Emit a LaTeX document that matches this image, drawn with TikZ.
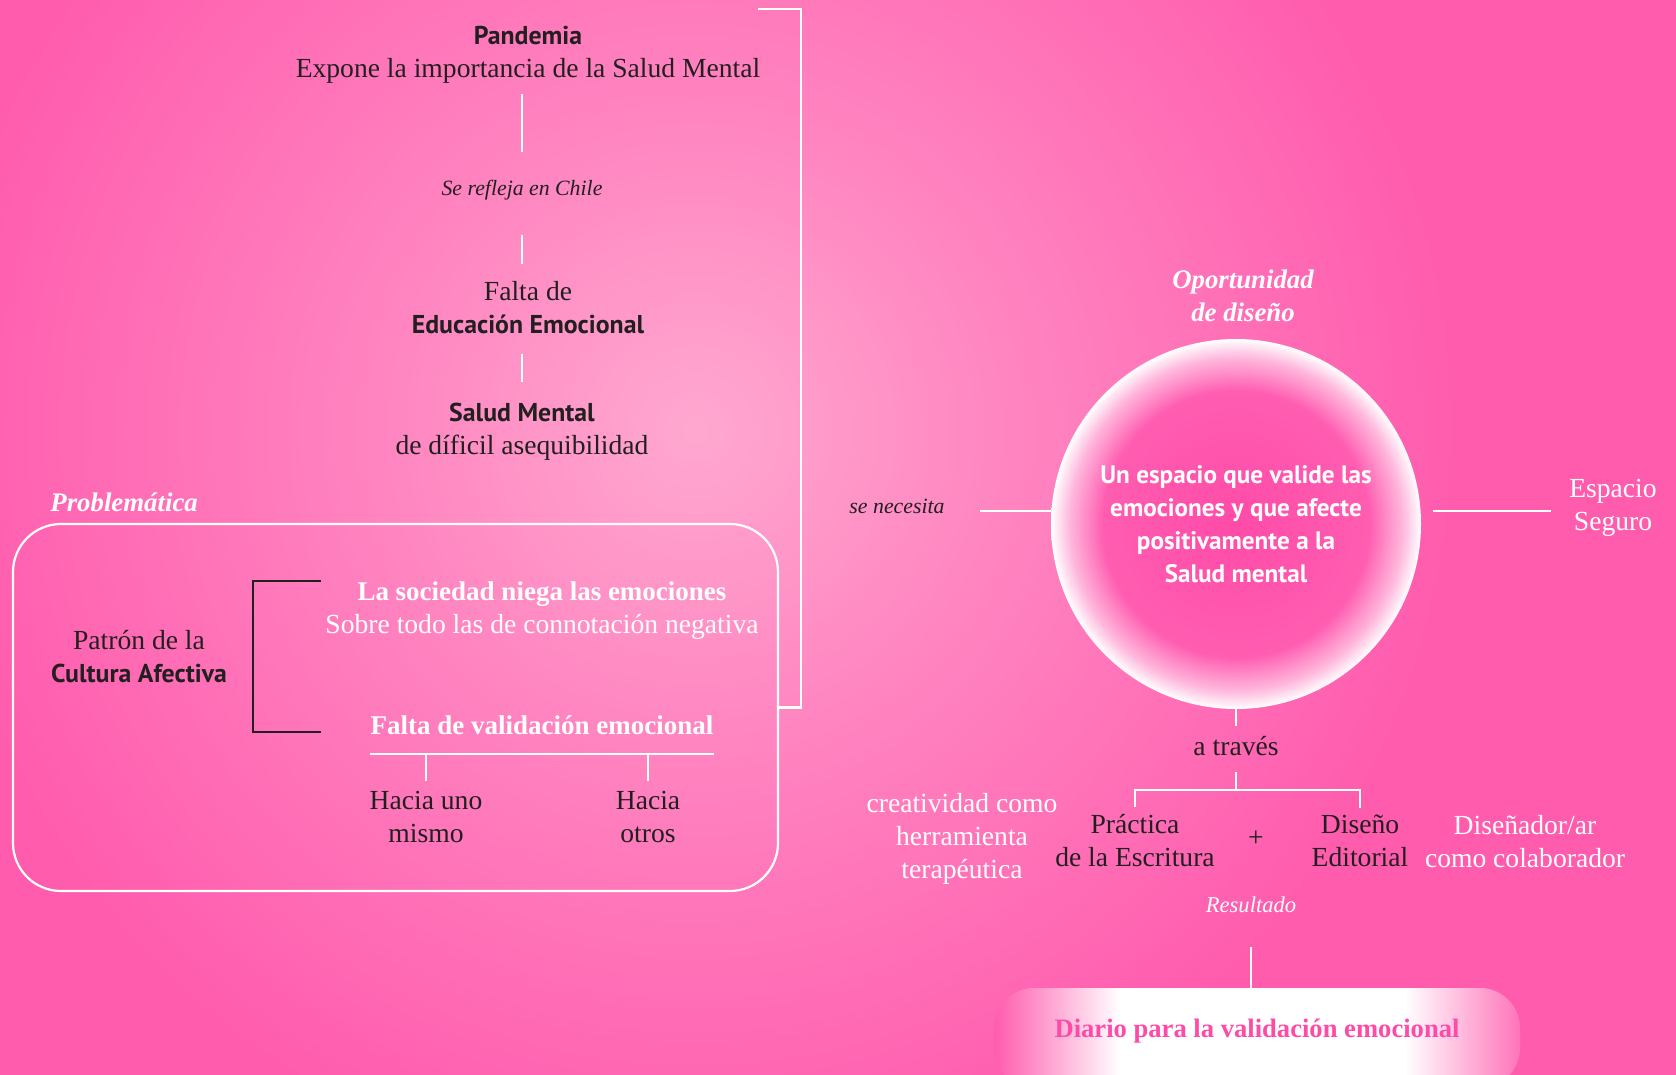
\documentclass[tikz,border=0pt]{standalone}
\usepackage{fontspec}
\setmainfont{Liberation Serif}
\setsansfont{PT Sans}
\usepackage{tikz}
\usetikzlibrary{positioning,calc}

\definecolor{fondo}{HTML}{FF5CAE}
\definecolor{brillo}{HTML}{FFA8D0}
\definecolor{fucsia}{HTML}{FF4BA8}
\definecolor{tinta}{HTML}{231F20}
\colorlet{brilloMedio}{brillo!55!fondo}
\colorlet{fucsiaBorde}{fucsia!90!white}
\colorlet{fucsiaClaro}{fucsia!40!white}
\colorlet{fondoClaro}{fondo!85!white}

\pgfdeclareradialshading{halo}{\pgfpointorigin}{color(0bp)=(brillo); color(10bp)=(brilloMedio); color(25bp)=(fondo); color(50bp)=(fondo)}
\pgfdeclareradialshading{burbuja}{\pgfpointorigin}{color(0bp)=(fucsia); color(18bp)=(fucsiaBorde); color(22.5bp)=(fucsiaClaro); color(25bp)=(white); color(50bp)=(white)}
\pgfdeclarehorizontalshading{pildora}{100bp}{color(0bp)=(fondo); color(25bp)=(fondo); color(37bp)=(white); color(64bp)=(white); color(75bp)=(fondoClaro); color(100bp)=(fondoClaro)}

\newcommand{\negrita}[1]{{\fontsize{12.9}{16.5}\selectfont\sffamily\bfseries #1}}

\tikzset{
	texto/.style={align=center, inner sep=0pt, text=tinta, font=\fontsize{13.8}{16.5}\selectfont},
	blanco/.style={texto, text=white},
	nota/.style={texto, font=\fontsize{10.9}{13}\selectfont\itshape},
	titulo/.style={texto, text=white, font=\fontsize{13.4}{16.5}\selectfont\bfseries\itshape},
	enlace/.style={draw=white, line width=1.1pt},
	corchete/.style={draw=tinta, line width=1.4pt},
	caja/.style={draw=white, line width=1.1pt, rounded corners=24pt, inner sep=0pt},
	burbuja/.style={circle, shade, shading=burbuja, minimum size=185pt, inner sep=0pt,
			align=center, text=white, font=\fontsize{12.6}{16.5}\selectfont\sffamily\bfseries},
	pildora/.style={shade, shading=pildora, rounded corners=20pt, minimum width=263pt,
			minimum height=50pt, text depth=10pt, text=fucsia,
			font=\fontsize{13.3}{15}\selectfont\bfseries}
}

\begin{document}
\begin{tikzpicture}[x=0.5pt, y=-0.5pt]
  \useasboundingbox (0,0) rectangle (1676,1075);
  \clip (0,0) rectangle (1676,1075);
  \fill[fondo] (0,0) rectangle (1676,1075);
  \shade[shading=halo] (695,430) circle (760);

  % columna de arriba
  \node[texto] (pandemia) at (528,55) {\negrita{Pandemia}\\Expone la importancia de la Salud Mental};
  \node[nota] (refleja) at (522,190) {Se refleja en Chile};
  \node[texto] (educacion) at (528,308) {Falta de\\\negrita{Educación Emocional}};
  \node[texto] (salud) at (522,432) {\negrita{Salud Mental}\\de díficil asequibilidad};
  \draw[enlace, shorten <=5pt, shorten >=14pt] (pandemia.south -| refleja) -- (refleja.north);
  \draw[enlace, shorten <=17.5pt, shorten >=8.5pt] (refleja.south) -- (educacion.north -| refleja);
  \draw[enlace, shorten <=9.5pt, shorten >=10.5pt] (educacion.south -| refleja) -- (salud.north);

  % problematica
  \node[titulo, anchor=west] (problematica) at (50,502) {Problemática};
  \node[caja, minimum width=382.5pt, minimum height=183.5pt] (probbox) at (395.5,707.5) {};
  \coordinate (cima) at (758,9);
  \draw[enlace] (cima) -- ++(43,0) |- (probbox.east);

  \node[texto] (patron) at (139,657) {Patrón de la\\\negrita{Cultura Afectiva}};
  \node[blanco] (sociedad) at (542,611) {{\fontsize{13.5}{16.5}\selectfont\bfseries La sociedad niega las emociones}\\Sobre todo las de connotación negativa};
  \node[blanco, font=\fontsize{13.5}{16.5}\selectfont\bfseries] (validacion) at (542,725) {Falta de validación emocional};
  \coordinate (corA) at (321,581);
  \coordinate (corB) at (321,732);
  \draw[corchete] (corA) -- ++(-68,0) |- (corB);
  \draw[enlace] ([yshift=-9.5pt]validacion.south west) coordinate (barraA)
    -- ([yshift=-9.5pt]validacion.south east) coordinate (barraB);
  \node[texto] (uno) at (426,817) {Hacia uno\\mismo};
  \node[texto] (otros) at (648,817) {Hacia\\otros};
  \draw[enlace] (uno.north |- barraA) -- ++(0,27);
  \draw[enlace] (otros.north |- barraA) -- ++(0,27);

  % oportunidad
  \node[titulo] (oportunidad) at (1243,296) {Oportunidad\\de diseño};
  \node[burbuja] (espacio) at (1236,524) {Un espacio que valide las\\emociones y que afecte\\positivamente a la\\Salud mental};
  \node[nota] (necesita) at (897,506) {se necesita};
  \node[blanco] (seguro) at (1613,508) {Espacio\\Seguro};
  \draw[enlace, shorten >=17.5pt] (espacio.176) -- (espacio.176 -| necesita.east);
  \draw[enlace, shorten <=6pt, shorten >=9pt] (espacio.4) -- (espacio.4 -| seguro.west);

  \node[texto] (traves) at (1236,746) {a través};
  \coordinate (rama) at (1236,790);
  \draw[enlace, shorten >=5pt] (espacio.south) -- (traves.north);
  \draw[enlace, shorten <=8pt] (traves.south) -- (rama);
  \node[texto] (practica) at (1135,841) {Práctica\\de la Escritura};
  \node[texto] (diseno) at (1360,841) {Diseño\\Editorial};
  \node[texto] (mas) at (1256,839) {+};
  \draw[enlace] ([yshift=3.5pt]practica.north) |- (rama) -| ([yshift=3.5pt]diseno.north);
  \node[blanco] (creatividad) at (962,839) {creatividad como\\herramienta\\terapéutica};
  \node[blanco] (disenador) at (1525,842) {Diseñador/ar\\como colaborador};

  \node[nota, text=white, font=\fontsize{11.3}{13}\selectfont\itshape] (resultado) at (1251,905) {Resultado};
  \node[pildora] (diario) at (1257,1038) {Diario para la validación emocional};
  \draw[enlace, shorten <=17pt] (resultado.south) -- (resultado.south |- diario.north);
\end{tikzpicture}
\end{document}
